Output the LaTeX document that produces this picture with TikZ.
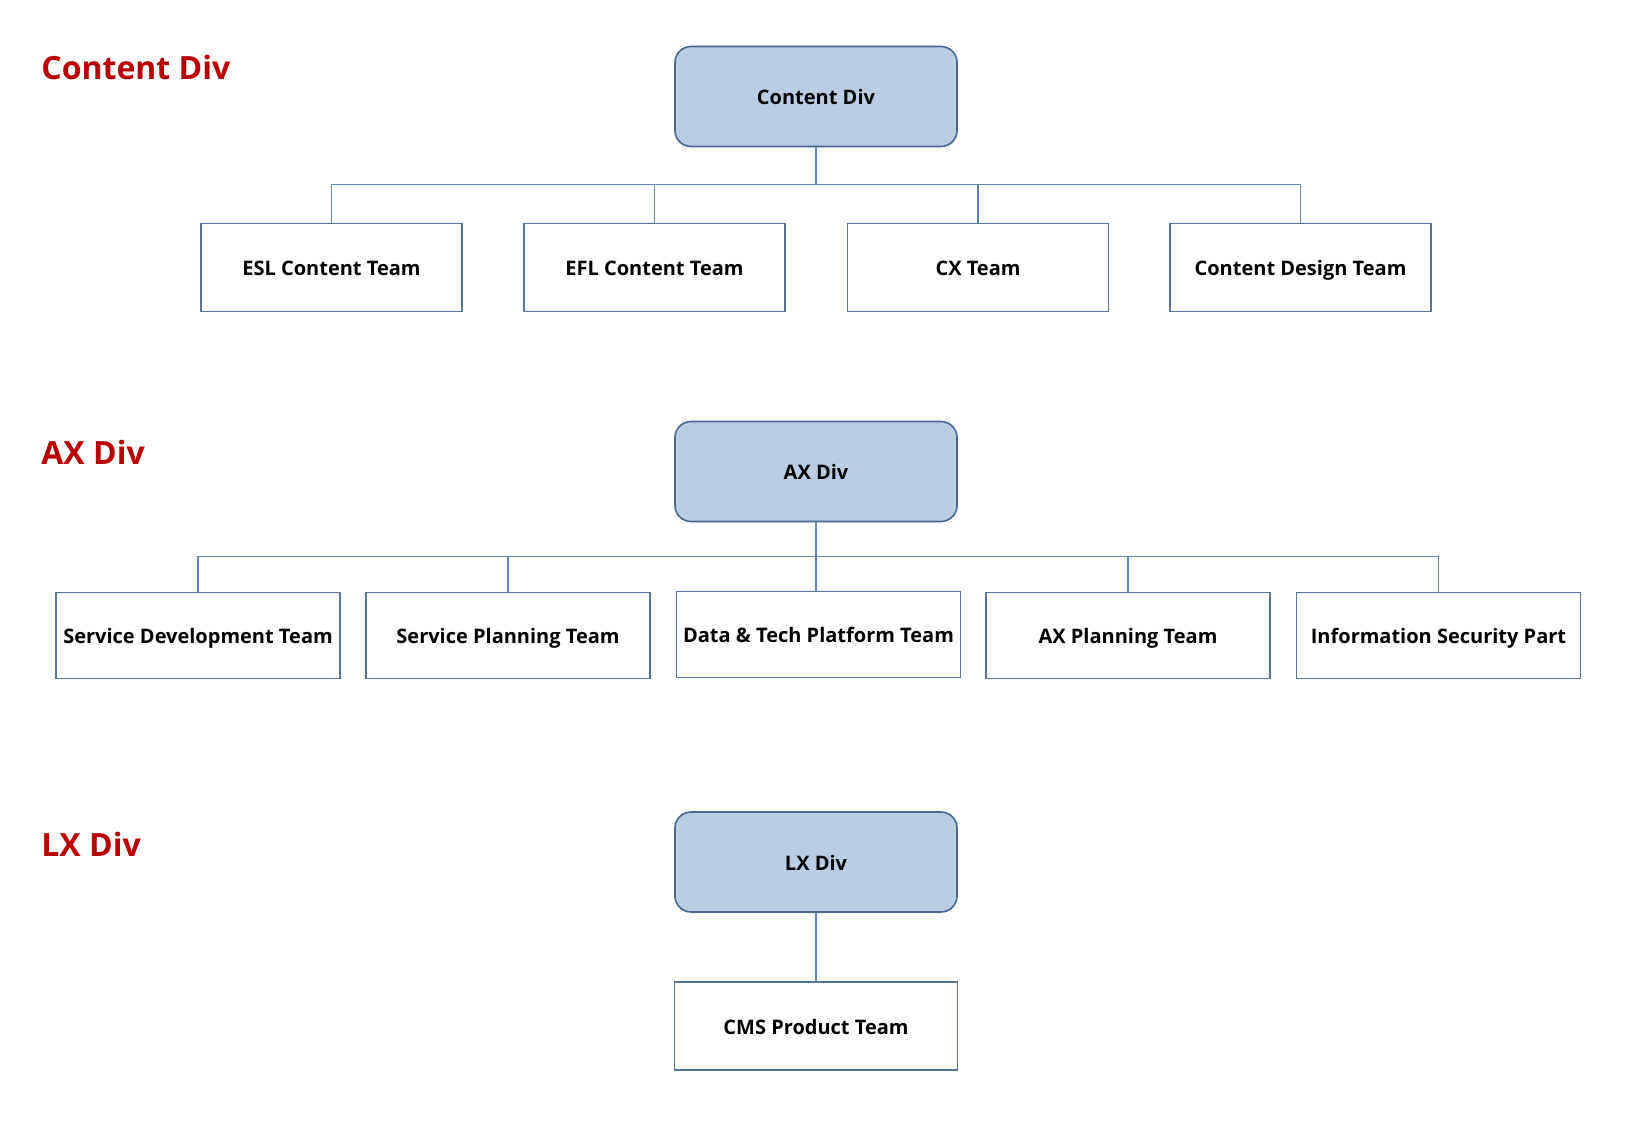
\documentclass[tikz,border=0pt]{standalone}
\usepackage{fontspec}
\setmainfont{Open Sans}
\definecolor{divfill}{HTML}{B9CDE5}
\definecolor{divdraw}{HTML}{46668F}
\definecolor{teamdraw}{HTML}{56759C}
\definecolor{linec}{HTML}{5F87B8}
\definecolor{titlered}{HTML}{B80000}
\begin{document}
\begin{tikzpicture}[x=0.5pt,y=-0.5pt,
  divbox/.style={draw=divdraw,fill=divfill,line width=0.8pt,rounded corners=8pt,
    minimum width=141pt,minimum height=50pt,inner sep=0pt,
    text height=8.6pt,text depth=0.4pt,
    font=\fontsize{10}{12}\selectfont\bfseries},
  teambox/.style={draw=teamdraw,fill=white,line width=0.8pt,
    minimum height=44pt,inner sep=0pt,
    text height=8.6pt,text depth=0.4pt,
    font=\fontsize{10}{12}\selectfont\bfseries},
  conn/.style={draw=linec,line width=0.7pt},
  divtitle/.style={anchor=base west,text=titlered,inner sep=0pt,
    font=\fontsize{16}{18}\selectfont\bfseries}]
\useasboundingbox (0,0) rectangle (1625,1125);
% titles
\node[divtitle] (t1) at (41,79) {Content Div};
\node[divtitle] (t2) at (41,464) {AX Div};
\node[divtitle] (t3) at (41,856) {LX Div};
% Content Div
\node[divbox] (cd) at (816,96.5) {Content Div};
\node[teambox,minimum width=130.5pt] (esl) at (331.5,267.5) {ESL Content Team};
\node[teambox,minimum width=130.5pt] (efl) at (654.5,267.5) {EFL Content Team};
\node[teambox,minimum width=130.5pt] (cx) at (978,267.5) {CX Team};
\node[teambox,minimum width=130.5pt] (cdt) at (1300.5,267.5) {Content Design Team};
\coordinate (busC) at (816,184.5);
\draw[conn] (cd.south) -- (busC) -| (esl.north);
\draw[conn] (busC) -| (efl.north);
\draw[conn] (busC) -| (cx.north);
\draw[conn] (busC) -| (cdt.north);
% AX Div
\node[divbox] (ax) at (816,471.5) {AX Div};
\node[teambox,minimum width=142pt,minimum height=43pt] (sdt) at (198,635.5) {Service Development Team};
\node[teambox,minimum width=142pt,minimum height=43pt] (spt) at (508,635.5) {Service Planning Team};
\node[teambox,minimum width=142pt,minimum height=43pt] (dtp) at (818.5,634.5) {Data \& Tech Platform Team};
\node[teambox,minimum width=142pt,minimum height=43pt] (axp) at (1128,635.5) {AX Planning Team};
\node[teambox,minimum width=142pt,minimum height=43pt] (isp) at (1438.5,635.5) {Information Security Part};
\coordinate (busA) at (816,556.5);
\draw[conn] (ax.south) -- (busA) -| (sdt.north);
\draw[conn] (busA) -| (spt.north);
\draw[conn] (busA) -- (busA |- dtp.north);
\draw[conn] (busA) -| (axp.north);
\draw[conn] (busA) -| (isp.north);
% LX Div
\node[divbox] (lx) at (816,862) {LX Div};
\node[teambox,minimum width=141.5pt] (cms) at (816,1026) {CMS Product Team};
\draw[conn] (lx.south) -- (cms.north);
\end{tikzpicture}
\end{document}
